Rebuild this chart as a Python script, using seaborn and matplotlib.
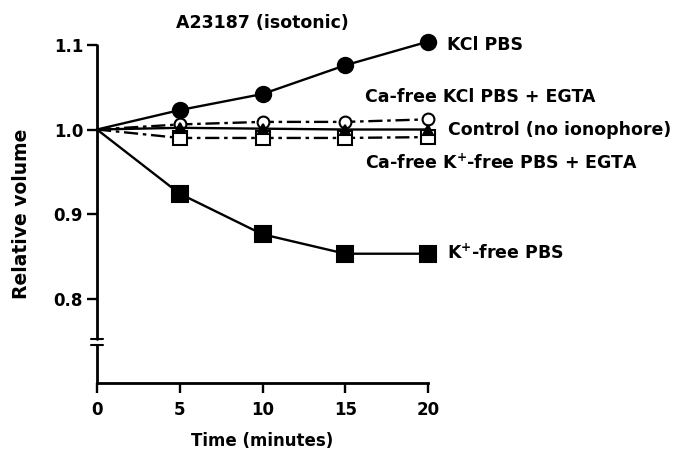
import matplotlib
matplotlib.use("Agg")
import matplotlib.pyplot as plt
import seaborn as sns
import pandas as pd

sns.set_theme(style="white")
plt.rcParams['font.family'] = ['DejaVu Sans']
plt.rcParams['font.weight'] = 'bold'
plt.rcParams['mathtext.default'] = 'bf'
plt.rcParams['text.color'] = 'black'
plt.rcParams['axes.labelcolor'] = 'black'

time = [0, 5, 10, 15, 20]
kcl_pbs = [1.0, 1.023, 1.042, 1.076, 1.104]
ca_free_kcl_egta = [1.0, 1.006, 1.009, 1.009, 1.012]
control = [1.0, 1.002, 1.001, 1.0, 1.0]
ca_free_kfree_egta = [1.0, 0.99, 0.99, 0.99, 0.991]
kfree_pbs = [1.0, 0.924, 0.876, 0.853, 0.853]

series_names = ["KCl PBS", "Ca-free KCl PBS + EGTA", "Control (no ionophore)",
                "Ca-free K$^{+}$-free PBS + EGTA", "K$^{+}$-free PBS"]
series_values = [kcl_pbs, ca_free_kcl_egta, control, ca_free_kfree_egta, kfree_pbs]

x_ticks = [0, 5, 10, 15, 20]
y_ticks = [0.8, 0.9, 1.0, 1.1]
y_tick_labels = ["0.8", "0.9", "1.0", "1.1"]

fig = plt.figure(figsize=(6.81, 4.51), dpi=100)
ax = fig.add_axes([97/681, 1-383/451, (428-97)/681, (383-45)/451])

styles = [
    dict(marker='o', mfc='black', ls='-', ms=11),
    dict(marker='o', mfc='white', ls=(0, (6, 2, 1.5, 2)), ms=8.5),
    dict(marker='^', mfc='black', ls='-', ms=7.5),
    dict(marker='s', mfc='white', ls=(0, (6, 2, 1.5, 2)), ms=9.5),
    dict(marker='s', mfc='black', ls='-', ms=11),
]
zorders = [5, 4, 6, 3, 5]

for name, vals, st, z in zip(series_names, series_values, styles, zorders):
    df = pd.DataFrame({"t": time, "v": vals})
    sns.lineplot(data=df, x="t", y="v", ax=ax, color='black', lw=1.7,
                 linestyle=st['ls'], marker=st['marker'], markersize=st['ms'],
                 markerfacecolor=st['mfc'], markeredgecolor='black',
                 markeredgewidth=1.5, zorder=z, clip_on=False)
for line in ax.lines:
    line.set_markevery([1, 2, 3, 4])

ax.set_xlim(0, 20)
ax.set_ylim(0.7, 1.1)
ax.set_xticks(x_ticks)
ax.set_xticklabels([str(t) for t in x_ticks])
ax.set_yticks(y_ticks)
ax.set_yticklabels(y_tick_labels)
ax.tick_params(axis='both', direction='out', length=7, width=1.7, colors='black',
               labelcolor='black', labelsize=12, bottom=True, left=True, pad=3)
ax.tick_params(axis='x', pad=6)
for sp in ['top', 'right', 'left']:
    ax.spines[sp].set_visible(False)
ax.spines['bottom'].set_linewidth(2.0)
ax.spines['bottom'].set_color('black')

# left spine with axis break
ax.plot([0, 0], [0.7, 0.745], color='black', lw=2.0, clip_on=False, zorder=2)
ax.plot([0, 0], [0.752, 1.1], color='black', lw=2.0, clip_on=False, zorder=2)
ax.plot([-0.35, 0.35], [0.745, 0.745], color='black', lw=1.5, clip_on=False)
ax.plot([-0.35, 0.35], [0.752, 0.752], color='black', lw=1.5, clip_on=False)

ax.set_xlabel("Time (minutes)", fontsize=12, fontweight='bold', labelpad=9)
ax.set_ylabel("Relative volume", fontsize=13.5, fontweight='bold', labelpad=16)
ax.set_title("A23187 (isotonic)", fontsize=12.5, fontweight='bold', pad=12)

label_pos = [(447, 45), (365, 97), (448, 130), (365, 163), (447, 253)]
for name, (px, py) in zip(series_names, label_pos):
    fig.text(px/681, 1-py/451, name, fontsize=12.5, fontweight='bold',
             color='black', ha='left', va='center')

fig.savefig("out.png", dpi=100)
